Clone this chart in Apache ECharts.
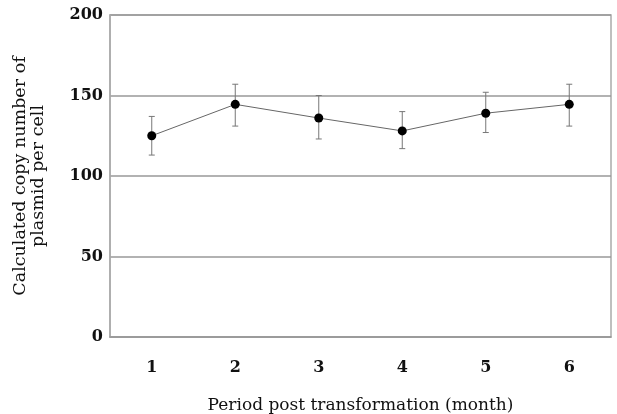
<!DOCTYPE html>
<html>
<head>
<meta charset="utf-8">
<script src="https://cdn.jsdelivr.net/npm/echarts@6/dist/echarts.min.js"></script>
<style>
  html, body { margin: 0; padding: 0; background: #fff; }
  #chart { width: 617px; height: 414px; }
</style>
</head>
<body>
<div id="chart"></div>
<script>
const months = ['1', '2', '3', '4', '5', '6']
const copyNumber = [125, 144.5, 136, 128, 139, 144.5]
const errLow = [113, 131, 123, 117, 127, 131]
const errHigh = [137, 157, 150, 140, 152, 157]

const chart = echarts.init(document.getElementById('chart'))
const serif = '"DejaVu Serif", "Liberation Serif", serif'

const errData = months.map((m, i) => [i, errLow[i], errHigh[i]])

const option = {
  animation: false,
  grid: {
    left: 110,
    right: 6,
    top: 15,
    bottom: 77,
    outerBoundsMode: 'none',
    show: true,
    borderColor: '#aaa',
    borderWidth: 1.5
  },
  xAxis: {
    type: 'category',
    data: months,
    boundaryGap: true,
    name: 'Period post transformation (month)',
    nameLocation: 'middle',
    nameGap: 60,
    nameTextStyle: { fontFamily: serif, fontSize: 17, color: '#111' },
    axisLine: { lineStyle: { color: '#999', width: 1.5 } },
    axisTick: { inside: true, length: 4, lineStyle: { color: '#999' } },
    axisLabel: { fontFamily: serif, fontSize: 16, fontWeight: 'bold', color: '#111', margin: 23 },
    splitLine: { show: false }
  },
  yAxis: {
    type: 'value',
    min: 0,
    max: 200,
    interval: 50,
    name: 'Calculated copy number of\nplasmid per cell',
    nameLocation: 'middle',
    nameGap: 63,
    nameTextStyle: { fontFamily: serif, fontSize: 17.5, color: '#111', lineHeight: 18 },
    axisLine: { show: true, lineStyle: { color: '#aaa', width: 1.5 } },
    axisTick: { show: false },
    axisLabel: { fontFamily: serif, fontSize: 16, fontWeight: 'bold', color: '#111', margin: 7 },
    splitLine: { show: true, lineStyle: { color: '#999', width: 1.5 } }
  },
  series: [
    {
      type: 'custom',
      data: errData,
      z: 1,
      renderItem: function (params, api) {
        const x = api.value(0)
        const lo = api.coord([x, api.value(1)])
        const hi = api.coord([x, api.value(2)])
        const cap = 3
        const style = { stroke: '#777', lineWidth: 1 }
        return {
          type: 'group',
          children: [
            { type: 'line', shape: { x1: lo[0], y1: lo[1], x2: hi[0], y2: hi[1] }, style: style },
            { type: 'line', shape: { x1: lo[0] - cap, y1: lo[1], x2: lo[0] + cap, y2: lo[1] }, style: style },
            { type: 'line', shape: { x1: hi[0] - cap, y1: hi[1], x2: hi[0] + cap, y2: hi[1] }, style: style }
          ]
        }
      }
    },
    {
      type: 'line',
      data: copyNumber,
      z: 2,
      symbol: 'circle',
      symbolSize: 9,
      itemStyle: { color: '#000' },
      lineStyle: { color: '#666', width: 1 }
    }
  ]
}

chart.setOption(option)
</script>
</body>
</html>
